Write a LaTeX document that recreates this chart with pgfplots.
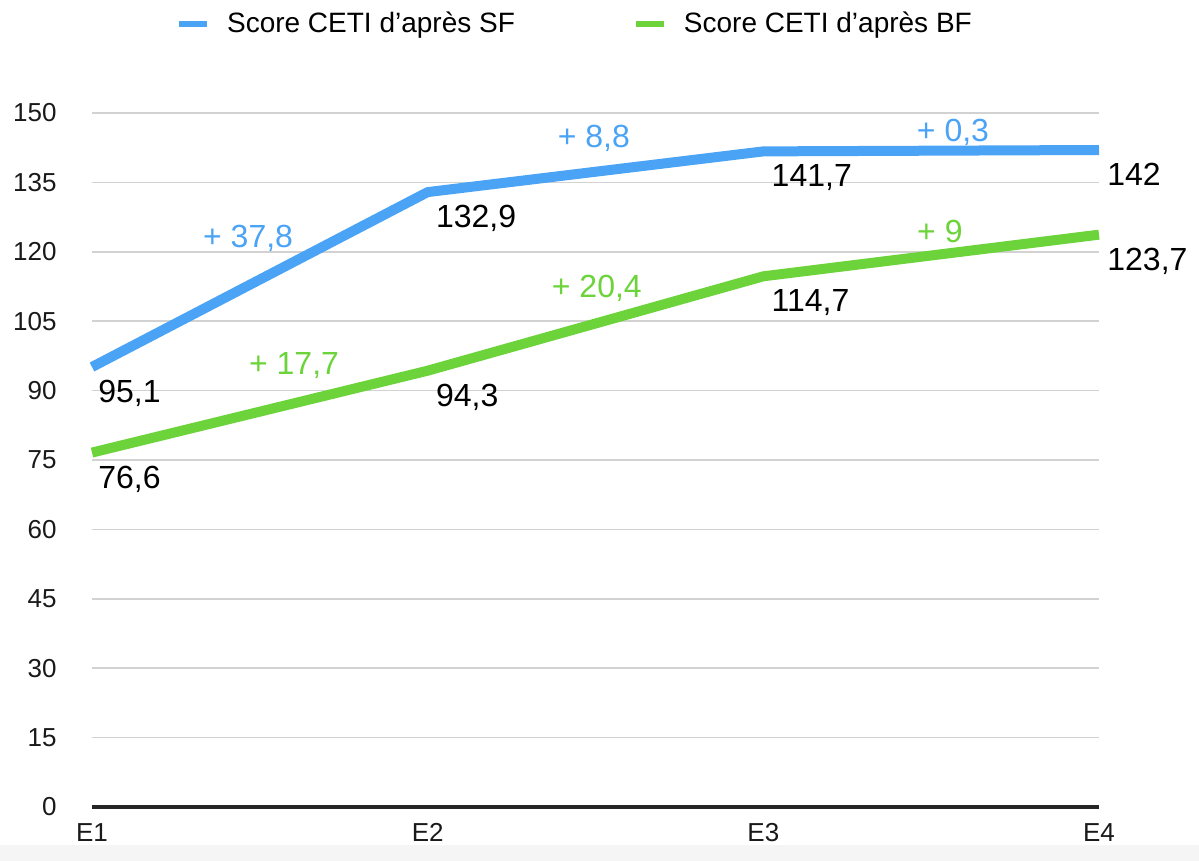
\documentclass[border=0pt]{standalone}
\usepackage{fontspec}
\setmainfont{Liberation Sans}
\usepackage{pgfplots}
\pgfplotsset{compat=1.18}
\definecolor{sfblue}{RGB}{74,163,245}
\definecolor{bfgreen}{RGB}{108,212,58}
\definecolor{gridgray}{RGB}{210,210,210}
\definecolor{bandgray}{RGB}{245,245,245}
\newcommand{\lab}{\fontsize{16}{18}\selectfont}
\begin{document}
\begin{tikzpicture}
\useasboundingbox (0,0) rectangle (599.5pt,430.5pt);
\fill[bandgray] (0,0) rectangle (599.5pt,8pt);
\begin{axis}[
  at={(46pt,27pt)}, anchor=south west,
  width=503.5pt, height=347pt, scale only axis,
  xmin=0, xmax=3, ymin=0, ymax=150,
  xtick={0,1,2,3}, xticklabels={E1,E2,E3,E4},
  ytick={0,15,...,150},
  extra y ticks={0}, extra y tick labels={},
  extra y tick style={grid style={draw=black!85, line width=1.6pt}},
  ymajorgrids, grid style={gridgray, line width=0.75pt},
  axis line style={draw=none},
  major tick length=0pt,
  tick label style={font=\fontsize{13}{15}\selectfont, text=black!90},
  xticklabel style={anchor=north, inner sep=0pt, yshift=-8pt},
  yticklabel style={anchor=east, inner sep=0pt, xshift=-17.5pt},
  /pgf/number format/assume math mode=true,
  clip=false,
  legend columns=2,
  legend style={at={(axis description cs:0.4786,1.128)}, anchor=center,
    draw=none, fill=none, inner sep=0pt,
    font=\fontsize{14}{16}\selectfont,
    nodes={inner sep=0pt},
    /tikz/every even column/.append style={column sep=59pt},
    /tikz/every odd column/.append style={column sep=8.5pt}},
  legend cell align=left,
  legend image code/.code={\draw[#1, line width=3pt] (0pt,0pt) -- (14pt,0pt);},
]
\addplot[sfblue, line width=5pt, line join=round] coordinates {(0,95.1) (1,132.9) (2,141.7) (3,142)};
\addlegendentry{Score CETI d’après SF}
\addplot[bfgreen, line width=5pt, line join=round] coordinates {(0,76.6) (1,94.3) (2,114.7) (3,123.7)};
\addlegendentry{Score CETI d’après BF}

\begin{scope}[every node/.style={inner sep=0pt, font=\lab}]
\node[anchor=north west, xshift=3pt, yshift=-6.5pt] at (axis cs:0,95.1) {95,1};
\node[anchor=north west, xshift=4pt, yshift=-6.5pt] at (axis cs:1,132.9) {132,9};
\node[anchor=north west, xshift=4pt, yshift=-6.5pt] at (axis cs:2,141.7) {141,7};
\node[anchor=north west, xshift=4pt, yshift=-6.5pt] at (axis cs:3,142) {142};
\node[anchor=north west, xshift=3pt, yshift=-6.5pt] at (axis cs:0,76.6) {76,6};
\node[anchor=north west, xshift=4pt, yshift=-6.5pt] at (axis cs:1,94.3) {94,3};
\node[anchor=north west, xshift=4pt, yshift=-6.5pt] at (axis cs:2,114.7) {114,7};
\node[anchor=north west, xshift=4pt, yshift=-6.5pt] at (axis cs:3,123.7) {123,7};
\node[text=sfblue] at (axis cs:0.465,123.0) {+ 37,8};
\node[text=sfblue] at (axis cs:1.495,144.6) {+ 8,8};
\node[text=sfblue] at (axis cs:2.565,145.9) {+ 0,3};
\node[text=bfgreen] at (axis cs:0.602,95.5) {+ 17,7};
\node[text=bfgreen] at (axis cs:1.504,112.2) {+ 20,4};
\node[text=bfgreen] at (axis cs:2.526,124.3) {+ 9};
\end{scope}
\end{axis}
\end{tikzpicture}
\end{document}
